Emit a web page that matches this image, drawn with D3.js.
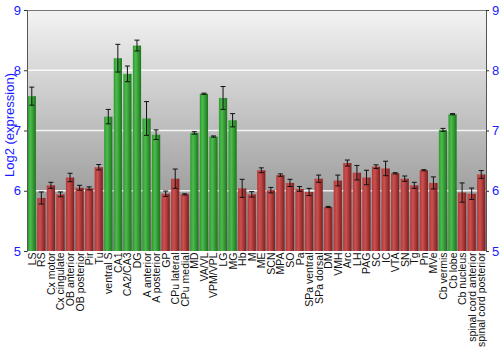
<!DOCTYPE html>
<html><head><meta charset="utf-8">
<script src="https://cdn.jsdelivr.net/npm/d3@7"></script>
<style>body{margin:0;background:#fff}svg{display:block}text{font-family:"Liberation Sans",Arial,sans-serif}</style>
</head><body><svg id="c" width="500" height="350"></svg>
<script>
const categories = ["LS","RS","Cx motor","Cx cingulate","OB anterior","OB posterior","Pir","Tu","ventral S","CA1","CA2/CA3","DG","A anterior","A posterior","GP","CPu lateral","CPu medial","MD","VA/VL","VPM/VPL","LG","MG","Hb","M","ME","SCN","MPA","SO","Pa","SPa ventral","SPa dorsal","DM","VMH","Arc","LH","PAG","SC","IC","VTA","SN","Tg","Pn","MVe","Cb vermis","Cb lobe","Cb nucleus","spinal cord anterior","spinal cord posterior"];
const values = [7.57,5.88,6.09,5.94,6.22,6.05,6.04,6.39,7.23,8.20,7.94,8.41,7.20,6.93,5.95,6.20,5.94,6.96,7.61,6.90,7.54,7.17,6.04,5.94,6.34,6.01,6.26,6.13,6.03,5.98,6.20,5.73,6.17,6.46,6.30,6.22,6.40,6.37,6.29,6.20,6.09,6.34,6.13,7.01,7.27,5.97,5.95,6.27];
const errors = [0.15,0.10,0.05,0.04,0.07,0.04,0.025,0.045,0.12,0.23,0.13,0.09,0.28,0.08,0.045,0.16,0.01,0.02,0.01,0.01,0.19,0.11,0.15,0.045,0.04,0.045,0.02,0.06,0.04,0.06,0.06,0.01,0.09,0.05,0.12,0.12,0.03,0.12,0.01,0.045,0.05,0.01,0.10,0.025,0.01,0.16,0.095,0.065];
const highlighted = ["LS","ventral S","CA1","CA2/CA3","DG","A anterior","A posterior","MD","VA/VL","VPM/VPL","LG","MG","Cb vermis","Cb lobe"];
const yTicks = [5,6,7,8,9];

const svg = d3.select("#c");
const m = {l:27, r:14, t:10, b:99};
const W = 500, H = 350;
const x = d3.scaleBand().domain(categories).range([m.l, W-m.r]).paddingInner(0.14).paddingOuter(0.07);
const y = d3.scaleLinear().domain([5,9]).range([H-m.b, m.t]);

const defs = svg.append("defs");
const bg = defs.append("linearGradient").attr("id","bg").attr("x1",0).attr("y1",0).attr("x2",0).attr("y2",1);
bg.append("stop").attr("offset","0%").attr("stop-color","#f3f3f3");
bg.append("stop").attr("offset","100%").attr("stop-color","#858585");
const gg = defs.append("linearGradient").attr("id","gg").attr("x1",0).attr("y1",0).attr("x2",1).attr("y2",0);
gg.append("stop").attr("offset","0%").attr("stop-color","#2f9a2f");
gg.append("stop").attr("offset","35%").attr("stop-color","#4cbb4c");
gg.append("stop").attr("offset","100%").attr("stop-color","#1c741c");
const rg = defs.append("linearGradient").attr("id","rg").attr("x1",0).attr("y1",0).attr("x2",1).attr("y2",0);
rg.append("stop").attr("offset","0%").attr("stop-color","#b33838");
rg.append("stop").attr("offset","35%").attr("stop-color","#cc5050");
rg.append("stop").attr("offset","100%").attr("stop-color","#7d1e1e");

svg.append("rect").attr("x",m.l).attr("y",m.t).attr("width",W-m.r-m.l).attr("height",H-m.b-m.t).attr("fill","url(#bg)");

svg.append("g").selectAll("line").data(yTicks.filter(d=>d>5&&d<9)).join("line")
  .attr("x1",m.l).attr("x2",W-m.r).attr("y1",d=>y(d)).attr("y2",d=>y(d))
  .attr("stroke","#fff").attr("stroke-opacity",0.85).attr("stroke-width",1.3);

const data = categories.map((c,i)=>({c, v:values[i], e:errors[i], g:highlighted.includes(c)}));

svg.append("g").selectAll("rect").data(data).join("rect")
  .attr("x",d=>x(d.c)).attr("width",x.bandwidth())
  .attr("y",d=>y(d.v)).attr("height",d=>y(5)-y(d.v))
  .attr("fill",d=>d.g?"url(#gg)":"url(#rg)");

const eb = svg.append("g").attr("stroke","#111").attr("stroke-width",1);
data.forEach(d=>{
  const cx = x(d.c)+x.bandwidth()/2;
  const y1 = y(d.v+d.e), y2 = y(d.v-d.e);
  eb.append("line").attr("x1",cx).attr("x2",cx).attr("y1",y1).attr("y2",y2);
  eb.append("line").attr("x1",cx-2.5).attr("x2",cx+2.5).attr("y1",y1).attr("y2",y1);
  eb.append("line").attr("x1",cx-2.5).attr("x2",cx+2.5).attr("y1",y2).attr("y2",y2);
});

svg.append("line").attr("x1",m.l).attr("x2",W-m.r).attr("y1",m.t+0.5).attr("y2",m.t+0.5).attr("stroke","#777");

const la = svg.append("g").attr("transform",`translate(${m.l},0)`)
  .call(d3.axisLeft(y).tickValues(yTicks).tickSize(3).tickFormat(d3.format("d")));
const ra = svg.append("g").attr("transform",`translate(${W-m.r},0)`)
  .call(d3.axisRight(y).tickValues(yTicks).tickSize(3).tickFormat(d3.format("d")));
[la,ra].forEach(a=>{
  a.select(".domain").attr("stroke","#555");
  a.selectAll(".tick line").attr("stroke","#333");
  a.selectAll("text").attr("fill","#1a1aff").style("font-size","13px").style("font-family","Liberation Sans, Arial, sans-serif");
});

svg.append("text").attr("transform",`translate(14,125) rotate(-90)`)
  .attr("text-anchor","middle").attr("fill","#1a1aff").style("font-size","13px").text("Log2 (expression)");

svg.append("g").selectAll("text").data(categories).join("text")
  .attr("transform",d=>`translate(${x(d)+x.bandwidth()/2+4},${H-m.b+1.5}) rotate(-90)`)
  .attr("text-anchor","end").attr("fill","#111").style("font-size","10.5px").text(d=>d);
</script></body></html>
